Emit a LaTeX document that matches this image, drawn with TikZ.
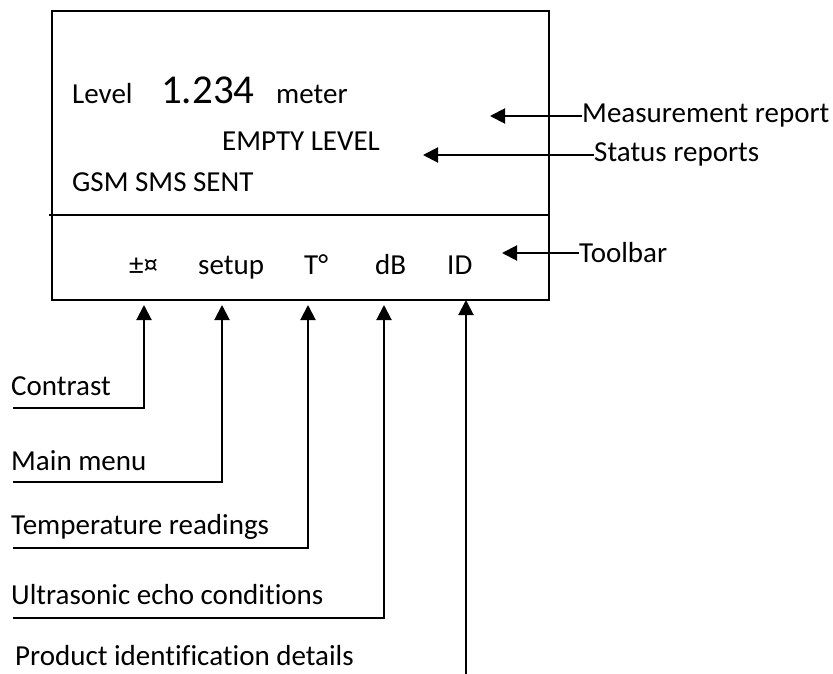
\documentclass[tikz,border=0pt]{standalone}
\usepackage{fontspec}
\setmainfont{Carlito}[Ligatures=CommonOff]
\usetikzlibrary{arrows.meta}
\begin{document}
\begin{tikzpicture}[x=1pt,y=-1pt,
  txt/.style={anchor=base west,inner sep=0pt,font=\fontsize{29}{34}\selectfont},
  big/.style={anchor=base west,inner sep=0pt,font=\fontsize{41}{48}\selectfont},
  conn/.style={line width=2pt,-{Triangle[length=15pt,width=15pt]}},
  frame/.style={line width=2pt}]
\useasboundingbox (0,0) rectangle (833,674);
% screen
\node[draw,frame,anchor=north west,inner sep=0pt,minimum width=497pt,minimum height=289pt] (screen) at (51,10) {};
\coordinate (divL) at (49,215);
\coordinate (divR) at (548,215);
\draw[frame] (divL) -- (divR);
% display text
\node[txt] (level) at (72,104) {Level};
\node[big] (value) at (161,104) {1.234};
\node[txt] (unit) at (276,104) {meter};
\node[txt] (empty) at (222,150) {EMPTY LEVEL};
\node[txt] (gsm) at (72,192) {GSM SMS SENT};
\node[txt] (b1) at (129,274) {±¤};
\node[txt] (b2) at (198,274) {setup};
\node[txt] (b3) at (304,274) {T°};
\node[txt] (b4) at (375,274) {dB};
\node[txt] (b5) at (447,274) {ID};
% right labels
\node[txt] (meas) at (582,123) {Measurement report};
\node[txt] (stat) at (594,162) {Status reports};
\node[txt] (tool) at (579,262) {Toolbar};
\coordinate (measT) at (490,116);
\coordinate (statT) at (423,155);
\coordinate (toolT) at (502,253);
\draw[conn] (meas.west |- measT) -- (measT);
\draw[conn] (stat.west |- statT) -- (statT);
\draw[conn] (tool.west |- toolT) -- (toolT);
% bottom labels
\node[txt] (contrast) at (11,395) {Contrast};
\node[txt] (menu) at (11,470) {Main menu};
\node[txt] (temp) at (11,534) {Temperature readings};
\node[txt] (echo) at (11,604) {Ultrasonic echo conditions};
\node[txt] (prod) at (15,665) {Product identification details};
\coordinate (c1) at (13,408);
\coordinate (c2) at (13,482);
\coordinate (c3) at (13,548);
\coordinate (c4) at (13,618);
\coordinate (c5) at (466,674);
\coordinate (t1) at (144,305);
\coordinate (t2) at (222,305);
\coordinate (t3) at (308,305);
\coordinate (t4) at (384,305);
\coordinate (t5) at (466,300);
\draw[conn] (c1) -| (t1);
\draw[conn] (c2) -| (t2);
\draw[conn] (c3) -| (t3);
\draw[conn] (c4) -| (t4);
\draw[conn] (c5) -- (t5);
\end{tikzpicture}
\end{document}
